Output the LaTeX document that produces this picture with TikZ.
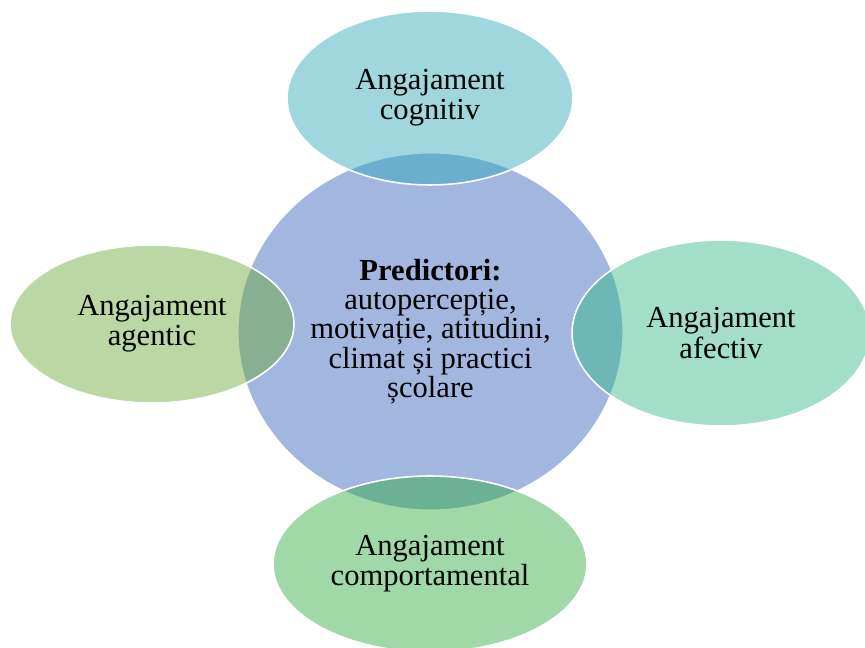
\documentclass[tikz,border=0pt]{standalone}
\usepackage{fontspec}
\setmainfont{Liberation Serif}
\usepackage{tikz}
\usetikzlibrary{shapes.geometric}
\definecolor{coreblue}{RGB}{162,183,224}
\definecolor{cogteal}{RGB}{44,164,182}
\definecolor{agegreen}{RGB}{104,168,53}
\definecolor{afemint}{RGB}{50,182,135}
\definecolor{comgreen}{RGB}{44,171,59}

\begin{document}
\begin{tikzpicture}[x=0.02cm,y=-0.02cm,
    core/.style={ellipse,draw=white,line width=0.6pt,fill=coreblue,inner sep=0pt,align=center,font=\fontsize{17.4}{16.6}\selectfont},
    petal/.style={ellipse,draw=white,line width=0.9pt,fill opacity=0.45,text opacity=1,inner sep=0pt,align=center,font=\fontsize{17.4}{17.2}\selectfont}]
    \useasboundingbox (0,0) rectangle (865,648);
    % centre
    \node[core,minimum width=7.7cm,minimum height=7.14cm] (pred) at (430.5,331.5) {\textbf{Predictori:}\\autopercepție,\\motivație, atitudini,\\climat și practici\\școlare};
    % the four kinds of engagement
    \node[petal,fill=cogteal,minimum width=5.72cm,minimum height=3.48cm] (cog) at (430,98) {Angajament\\cognitiv};
    \node[petal,fill=agegreen,minimum width=5.68cm,minimum height=3.16cm] (age) at (152,324) {Angajament\\agentic};
    \node[petal,fill=afemint,minimum width=5.96cm,minimum height=3.72cm] (afe) at (721,333) {Angajament\\afectiv};
    \node[petal,fill=comgreen,minimum width=6.28cm,minimum height=3.52cm] (com) at (430,564) {Angajament\\comportamental};
\end{tikzpicture}
\end{document}
